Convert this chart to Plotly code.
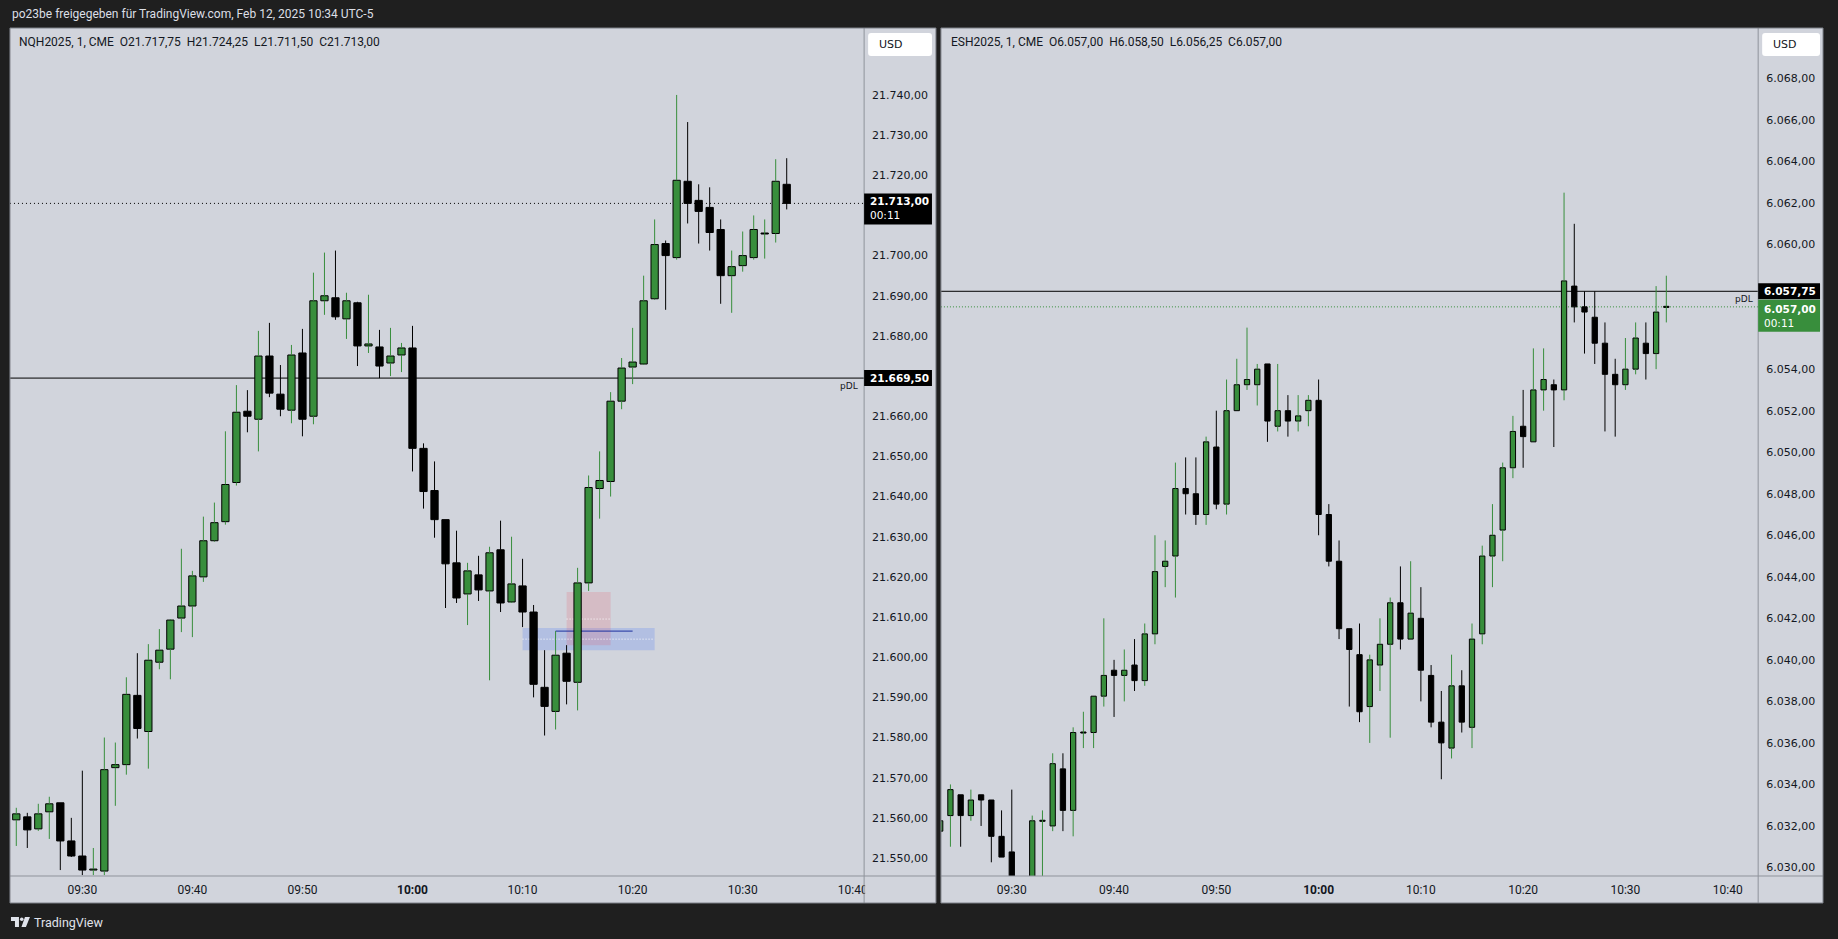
import plotly.graph_objects as go
import pandas as pd

W, H = 1838, 939
BG_DARK = "#1f1f1f"
PANEL = "#d1d4dc"
TXT = "#131722"
GREEN = "#388e3c"
AXLINE = "#8f939b"

# ---------------- data: NQH2025, 1 min, starting 09:24 ----------------
nq_start = "2025-02-12 09:24"
nq_open = [21559.5, 21560.25, 21557.25, 21561.5, 21563.75, 21554.25, 21550.5, 21547.0, 21546.75, 21572.5,
           21573.25, 21590.5, 21581.5, 21598.75, 21602.0, 21609.75, 21612.75, 21620.0, 21629.0, 21633.75,
           21643.5, 21661.25, 21659.25, 21675.0, 21665.5, 21661.5, 21675.75, 21660.0, 21688.75, 21689.5,
           21684.25, 21688.25, 21677.5, 21677.25, 21673.25, 21675.25, 21677.0, 21652.0, 21641.5, 21634.25,
           21623.5, 21615.75, 21620.5, 21616.5, 21626.75, 21613.75, 21617.75, 21611.25, 21592.5, 21586.5,
           21601.0, 21593.75, 21618.5, 21642.0, 21643.75, 21663.75, 21672.25, 21673.0, 21689.25, 21703.0,
           21699.5, 21718.5, 21713.75, 21712.0, 21706.5, 21695.0, 21697.5, 21699.5, 21705.5, 21705.5,
           21717.75]
nq_high = [21562.5, 21561.25, 21563.5, 21565.25, 21563.75, 21560.0, 21571.75, 21552.5, 21580.0, 21578.75,
           21595.0, 21601.0, 21603.25, 21607.0, 21609.5, 21627.0, 21621.5, 21635.0, 21638.5, 21656.25,
           21667.75, 21666.5, 21681.25, 21683.25, 21672.75, 21677.75, 21681.75, 21695.75, 21700.75, 21701.25,
           21690.75, 21688.5, 21690.25, 21681.5, 21682.0, 21678.25, 21682.5, 21653.25, 21648.75, 21634.25,
           21631.5, 21623.5, 21625.25, 21627.5, 21634.0, 21630.0, 21624.5, 21613.0, 21601.75, 21606.5,
           21603.0, 21622.25, 21645.25, 21651.25, 21666.0, 21674.5, 21682.0, 21695.0, 21709.0, 21703.75,
           21740.0, 21733.25, 21717.75, 21717.0, 21709.0, 21701.25, 21706.0, 21710.0, 21709.0, 21724.0,
           21724.25]
nq_low = [21553.0, 21552.5, 21556.75, 21554.75, 21547.0, 21550.25, 21545.75, 21545.75, 21545.75, 21563.0,
          21570.75, 21579.75, 21572.25, 21597.0, 21594.5, 21606.25, 21605.0, 21618.75, 21628.75, 21633.0,
          21642.75, 21656.0, 21651.25, 21664.75, 21660.0, 21658.25, 21655.0, 21658.0, 21685.25, 21684.0,
          21679.25, 21672.5, 21675.75, 21669.5, 21670.0, 21671.0, 21646.25, 21637.0, 21629.75, 21612.25,
          21613.5, 21608.0, 21614.0, 21594.25, 21611.25, 21613.5, 21607.5, 21590.0, 21580.5, 21582.0,
          21588.25, 21586.75, 21616.5, 21634.5, 21640.0, 21661.75, 21668.0, 21672.75, 21689.0, 21686.5,
          21699.0, 21708.0, 21703.0, 21701.25, 21688.0, 21685.75, 21696.0, 21699.0, 21699.25, 21703.25,
          21711.5]
nq_close = [21561.0, 21557.0, 21561.0, 21563.5, 21554.25, 21550.5, 21547.0, 21547.25, 21572.0, 21573.25,
            21590.75, 21582.25, 21599.25, 21601.75, 21609.25, 21612.75, 21620.25, 21629.0, 21633.5, 21643.0,
            21661.0, 21660.0, 21675.0, 21665.75, 21661.75, 21675.25, 21659.25, 21688.75, 21690.0, 21684.75,
            21688.75, 21677.5, 21678.0, 21672.5, 21675.0, 21677.0, 21652.0, 21641.25, 21634.25, 21623.25,
            21614.75, 21621.5, 21616.75, 21626.0, 21613.5, 21618.25, 21611.25, 21593.25, 21587.75, 21600.5,
            21594.0, 21618.5, 21642.25, 21644.0, 21663.75, 21672.0, 21673.5, 21688.75, 21702.75, 21700.0,
            21718.75, 21713.0, 21711.0, 21705.75, 21695.0, 21697.25, 21700.0, 21706.5, 21705.5, 21718.5,
            21713.0]

# ---------------- data: ESH2025, 1 min, starting 09:23 ----------------
es_start = "2025-02-12 09:23"
es_open = [6031.75, 6032.5, 6033.5, 6032.5, 6033.5, 6033.25, 6031.5, 6030.75, 6029.25, 6028.75,
           6032.25, 6032.0, 6034.75, 6032.75, 6036.5, 6036.5, 6038.25, 6039.5, 6039.25, 6039.75,
           6039.0, 6041.25, 6044.5, 6045.0, 6048.25, 6048.0, 6047.0, 6050.25, 6047.5, 6052.0,
           6053.25, 6053.25, 6054.25, 6051.25, 6052.0, 6051.5, 6052.0, 6052.5, 6047.0, 6044.75,
           6041.5, 6040.25, 6037.75, 6039.75, 6040.75, 6042.75, 6041.0, 6042.0, 6039.25, 6037.0,
           6035.75, 6038.75, 6036.75, 6041.25, 6045.0, 6046.25, 6049.25, 6051.25, 6050.5, 6053.0,
           6053.25, 6053.0, 6058.0, 6057.0, 6056.5, 6055.25, 6053.75, 6053.25, 6054.0, 6055.25,
           6054.75, 6057.0]
es_high = [6032.5, 6034.0, 6033.5, 6033.75, 6033.5, 6033.25, 6032.75, 6033.75, 6029.5, 6032.5,
           6032.75, 6035.5, 6035.5, 6036.75, 6037.5, 6038.25, 6042.0, 6040.0, 6040.5, 6041.0,
           6041.75, 6046.0, 6045.75, 6049.5, 6049.75, 6049.75, 6050.75, 6052.0, 6053.5, 6054.5,
           6056.0, 6054.25, 6054.25, 6054.25, 6052.75, 6052.75, 6052.75, 6053.5, 6047.5, 6045.75,
           6041.5, 6041.75, 6040.25, 6042.0, 6043.0, 6044.5, 6044.75, 6043.5, 6039.75, 6038.5,
           6040.25, 6039.5, 6041.75, 6045.5, 6047.5, 6049.5, 6051.75, 6053.0, 6055.0, 6055.0,
           6053.5, 6062.5, 6061.0, 6057.75, 6057.75, 6056.25, 6054.5, 6055.5, 6056.25, 6056.25,
           6058.0, 6058.5]
es_low = [6031.5, 6031.0, 6031.0, 6032.25, 6032.0, 6030.25, 6030.5, 6029.0, 6028.25, 6028.5,
          6029.25, 6031.75, 6031.75, 6031.5, 6035.75, 6035.75, 6037.75, 6037.25, 6038.0, 6038.5,
          6038.75, 6040.75, 6043.5, 6043.0, 6047.0, 6046.5, 6046.5, 6047.25, 6047.0, 6052.0,
          6053.0, 6052.25, 6050.5, 6051.0, 6050.75, 6051.0, 6051.25, 6046.0, 6044.5, 6041.0,
          6037.75, 6037.0, 6036.0, 6038.5, 6036.25, 6040.5, 6041.0, 6038.0, 6036.75, 6034.25,
          6035.25, 6036.5, 6035.75, 6040.75, 6043.5, 6044.75, 6048.75, 6049.25, 6050.5, 6052.0,
          6050.25, 6052.5, 6056.25, 6054.75, 6054.25, 6051.0, 6050.75, 6053.0, 6053.75, 6053.5,
          6054.0, 6056.25]
es_close = [6032.25, 6033.75, 6032.5, 6033.25, 6033.25, 6031.5, 6030.5, 6029.25, 6028.75, 6032.25,
            6032.25, 6035.0, 6032.75, 6036.5, 6036.5, 6038.25, 6039.25, 6039.25, 6039.5, 6039.0,
            6041.25, 6044.25, 6044.75, 6048.25, 6048.0, 6047.0, 6050.5, 6047.5, 6052.0, 6053.25,
            6053.5, 6054.0, 6051.5, 6052.0, 6051.5, 6051.75, 6052.5, 6047.0, 6044.75, 6041.5,
            6040.5, 6037.5, 6040.0, 6040.75, 6042.75, 6041.0, 6042.25, 6039.5, 6037.0, 6036.0,
            6038.75, 6037.0, 6041.0, 6045.0, 6046.0, 6049.25, 6051.0, 6050.75, 6053.0, 6053.5,
            6053.0, 6058.25, 6057.0, 6056.75, 6055.25, 6053.75, 6053.25, 6054.0, 6055.5, 6054.75,
            6056.75, 6057.0]

# ---------------- axis ticks / levels ----------------
nq_ticks = [21550, 21560, 21570, 21580, 21590, 21600, 21610, 21620, 21630, 21640, 21650, 21660,
            21680, 21690, 21700, 21720, 21730, 21740]
es_ticks = [6030, 6032, 6034, 6036, 6038, 6040, 6042, 6044, 6046, 6048, 6050, 6052, 6054,
            6060, 6062, 6064, 6066, 6068]
time_ticks = ["09:30", "09:40", "09:50", "10:00", "10:10", "10:20", "10:30", "10:40"]

nq_last = 21713.00
nq_pdl = 21669.50
es_last = 6057.00
es_pdl = 6057.75

# drawings on NQ chart
nq_blue_zone = ("10:10", "10:22", 21601.75, 21607.25)
nq_blue_mid = 21604.5
nq_red_zone = ("10:14", "10:18", 21603.0, 21616.25)
nq_red_mid = 21609.5
nq_level = ("10:13", "10:20", 21606.5)

header_top = "po23be freigegeben für TradingView.com, Feb 12, 2025 10:34 UTC-5"
nq_header = "NQH2025, 1, CME\u00a0\u00a0O21.717,75\u00a0\u00a0H21.724,25\u00a0\u00a0L21.711,50\u00a0\u00a0C21.713,00"
es_header = "ESH2025, 1, CME\u00a0\u00a0O6.057,00\u00a0\u00a0H6.058,50\u00a0\u00a0L6.056,25\u00a0\u00a0C6.057,00"

DAY = "2025-02-12 "


def fmt(v):
    s = f"{v:,.2f}"
    return s.replace(",", "X").replace(".", ",").replace("X", ".")


def px(x):
    return x / W


def py(y):
    return 1 - y / H


def times_for(start, n):
    return pd.date_range(start, periods=n, freq="1min").strftime("%Y-%m-%d %H:%M:%S").tolist()


fig = go.Figure()


def add_candles(times, o, h, l, c, xa, ya, width_ms, min_h):
    for is_up, color in ((True, GREEN), (False, "black")):
        xs, ys = [], []
        for t, oi, hi, li, ci in zip(times, o, h, l, c):
            if (ci >= oi) != is_up:
                continue
            top, bot = max(oi, ci), min(oi, ci)
            if hi > top:
                xs += [t, t, None]
                ys += [hi, top, None]
            if li < bot:
                xs += [t, t, None]
                ys += [bot, li, None]
        fig.add_trace(go.Scatter(x=xs, y=ys, mode="lines", line=dict(color=color, width=1),
                                 xaxis=xa, yaxis=ya, hoverinfo="skip", showlegend=False))
    base, hgt, fill = [], [], []
    for oi, ci in zip(o, c):
        d = abs(ci - oi)
        if d < min_h:
            base.append((oi + ci) / 2 - min_h / 2)
            hgt.append(min_h)
        else:
            base.append(min(oi, ci))
            hgt.append(d)
        fill.append(GREEN if ci > oi else "black")
    fig.add_trace(go.Bar(x=times, y=hgt, base=base, width=width_ms,
                         marker=dict(color=fill, line=dict(color="black", width=1)),
                         xaxis=xa, yaxis=ya, hoverinfo="skip", showlegend=False))


nq_t = times_for(nq_start, len(nq_open))
es_t = times_for(es_start, len(es_open))
add_candles(nq_t, nq_open, nq_high, nq_low, nq_close, "x", "y", 39700, 0.25)
add_candles(es_t, es_open, es_high, es_low, es_close, "x2", "y2", 31000, 0.05)

# ---------------- layout geometry (pixels) ----------------
L_PLOT = (10, 866)
R_PLOT = (943, 1762)
PLOT_Y = (28, 876)
L_PANEL = (10, 938)
R_PANEL = (943, 1827)
PANEL_Y = (28, 903)

xcommon = dict(type="date", showgrid=False, zeroline=False, showline=False, ticks="",
               tickfont=dict(family="Roboto", size=12, color=TXT), ticklabelstandoff=5,
               tickvals=[DAY + t for t in time_ticks],
               ticktext=[("<b>%s</b>" % t) if t == "10:00" else t for t in time_ticks],
               fixedrange=True)
ycommon = dict(side="right", showgrid=False, zeroline=False, showline=False, ticks="",
               tickfont=dict(family="DejaVu Sans", size=11, color=TXT), ticklabelstandoff=7,
               fixedrange=True)

fig.update_layout(
    width=W, height=H, margin=dict(l=0, r=0, t=0, b=0),
    paper_bgcolor=BG_DARK, plot_bgcolor=PANEL, showlegend=False, barmode="overlay",
    hovermode=False,
    xaxis=dict(xcommon, domain=[px(L_PLOT[0]), px(L_PLOT[1])], anchor="y",
               range=[DAY + "09:23:25.6", DAY + "10:41:02"]),
    yaxis=dict(ycommon, domain=[py(PLOT_Y[1]), py(PLOT_Y[0])], anchor="x",
               range=[21545.52, 21756.67], tickvals=nq_ticks, ticktext=[fmt(v) for v in nq_ticks]),
    xaxis2=dict(xcommon, domain=[px(R_PLOT[0]), px(R_PLOT[1])], anchor="y2",
                range=[DAY + "09:23:04.4", DAY + "10:42:58.8"]),
    yaxis2=dict(ycommon, domain=[py(PLOT_Y[1]), py(PLOT_Y[0])], anchor="x2",
                range=[6029.59, 6070.43], tickvals=es_ticks, ticktext=[fmt(v) for v in es_ticks]),
)

shapes = []
# panel backgrounds
for (x0, x1) in (L_PANEL, R_PANEL):
    shapes.append(dict(type="rect", xref="paper", yref="paper", x0=px(x0), x1=px(x1),
                       y0=py(PANEL_Y[1]), y1=py(PANEL_Y[0]), fillcolor=PANEL,
                       line=dict(width=0), layer="below"))

# NQ drawings
t0, t1, p0, p1 = nq_blue_zone
shapes.append(dict(type="rect", xref="x", yref="y", x0=DAY + t0, x1=DAY + t1, y0=p0, y1=p1,
                   fillcolor="rgba(41,98,255,0.18)", line=dict(width=0), layer="below"))
t0, t1, p0, p1 = nq_red_zone
shapes.append(dict(type="rect", xref="x", yref="y", x0=DAY + t0, x1=DAY + t1, y0=p0, y1=p1,
                   fillcolor="rgba(242,54,69,0.15)", line=dict(width=0), layer="below"))
shapes.append(dict(type="line", xref="x", yref="y", x0=DAY + nq_red_zone[0], x1=DAY + nq_red_zone[1],
                   y0=nq_red_mid, y1=nq_red_mid, line=dict(color="white", width=1, dash="1px,2px"),
                   layer="below"))
shapes.append(dict(type="line", xref="x", yref="y", x0=DAY + nq_blue_zone[0], x1=DAY + nq_blue_zone[1],
                   y0=nq_blue_mid, y1=nq_blue_mid, line=dict(color="white", width=1, dash="1px,2px"),
                   layer="below"))
shapes.append(dict(type="line", xref="x", yref="y", x0=DAY + nq_level[0], x1=DAY + nq_level[1],
                   y0=nq_level[2], y1=nq_level[2], line=dict(color="#1b2f9e", width=1), layer="below"))

# price lines
shapes.append(dict(type="line", xref="x domain", yref="y", x0=0, x1=1, y0=nq_pdl, y1=nq_pdl,
                   line=dict(color="black", width=1), layer="below"))
shapes.append(dict(type="line", xref="x domain", yref="y", x0=0, x1=1, y0=nq_last, y1=nq_last,
                   line=dict(color="black", width=1, dash="1px,3px"), layer="below"))
shapes.append(dict(type="line", xref="x2 domain", yref="y2", x0=0, x1=1, y0=es_pdl, y1=es_pdl,
                   line=dict(color="black", width=1), layer="below"))
shapes.append(dict(type="line", xref="x2 domain", yref="y2", x0=0, x1=1, y0=es_last, y1=es_last,
                   line=dict(color=GREEN, width=1, dash="1px,2px"), layer="below"))

# corner covers (clip time labels under price scale)
for (pl, pn) in ((L_PLOT, L_PANEL), (R_PLOT, R_PANEL)):
    shapes.append(dict(type="rect", xref="paper", yref="paper", x0=px(pl[1] + 1), x1=px(pn[1] - 1),
                       y0=py(PANEL_Y[1] - 1), y1=py(PLOT_Y[1] + 1), fillcolor=PANEL,
                       line=dict(width=0), layer="above"))

# separators and outlines
for (pl, pn) in ((L_PLOT, L_PANEL), (R_PLOT, R_PANEL)):
    shapes.append(dict(type="line", xref="paper", yref="paper", x0=px(pl[1]), x1=px(pl[1]),
                       y0=py(PANEL_Y[1]), y1=py(PANEL_Y[0]), line=dict(color=AXLINE, width=1),
                       layer="above"))
    shapes.append(dict(type="line", xref="paper", yref="paper", x0=px(pn[0]), x1=px(pn[1]),
                       y0=py(PLOT_Y[1]), y1=py(PLOT_Y[1]), line=dict(color=AXLINE, width=1),
                       layer="above"))
    shapes.append(dict(type="rect", xref="paper", yref="paper", x0=px(pn[0]), x1=px(pn[1]),
                       y0=py(PANEL_Y[1]), y1=py(PANEL_Y[0]), line=dict(color="#7d8088", width=1),
                       fillcolor="rgba(0,0,0,0)", layer="above"))


def rrect(x0, y0, x1, y1, r):
    pts = [
        f"M{px(x0 + r)},{py(y0)}", f"L{px(x1 - r)},{py(y0)}", f"Q{px(x1)},{py(y0)} {px(x1)},{py(y0 + r)}",
        f"L{px(x1)},{py(y1 - r)}", f"Q{px(x1)},{py(y1)} {px(x1 - r)},{py(y1)}",
        f"L{px(x0 + r)},{py(y1)}", f"Q{px(x0)},{py(y1)} {px(x0)},{py(y1 - r)}",
        f"L{px(x0)},{py(y0 + r)}", f"Q{px(x0)},{py(y0)} {px(x0 + r)},{py(y0)}", "Z"]
    return " ".join(pts)


# USD boxes
for (xa, xb) in ((870, 934), (1766, 1824)):
    shapes.append(dict(type="path", xref="paper", yref="paper", path=rrect(xa, 33, xb, 56, 3),
                       fillcolor="white", line=dict(width=0), layer="above"))

# price label boxes
shapes.append(dict(type="rect", xref="paper", yref="y", ysizemode="pixel", yanchor=nq_last,
                   x0=px(866), x1=px(934), y0=-21, y1=10, fillcolor="black", line=dict(width=0),
                   layer="above"))
shapes.append(dict(type="rect", xref="paper", yref="y", ysizemode="pixel", yanchor=nq_pdl,
                   x0=px(866), x1=px(934), y0=-8, y1=8, fillcolor="black", line=dict(width=0),
                   layer="above"))
shapes.append(dict(type="rect", xref="paper", yref="y2", ysizemode="pixel", yanchor=es_pdl,
                   x0=px(1762), x1=px(1824), y0=-8, y1=8, fillcolor="black", line=dict(width=0),
                   layer="above"))
shapes.append(dict(type="rect", xref="paper", yref="y2", ysizemode="pixel", yanchor=es_last,
                   x0=px(1762), x1=px(1824), y0=-25, y1=7, fillcolor=GREEN, line=dict(width=0),
                   layer="above"))

# TradingView logo glyph (approximation)
logo = [
    f"M{px(11)},{py(917)} L{px(19)},{py(917)} L{px(19)},{py(927)} L{px(15)},{py(927)} L{px(15)},{py(921)} L{px(11)},{py(921)} Z",
    f"M{px(25)},{py(917)} L{px(30)},{py(917)} L{px(26)},{py(927)} L{px(21.5)},{py(927)} Z",
]
for p in logo:
    shapes.append(dict(type="path", xref="paper", yref="paper", path=p, fillcolor="#e0e3eb",
                       line=dict(width=0), layer="above"))
shapes.append(dict(type="circle", xref="paper", yref="paper", x0=px(20), x1=px(23.6), y0=py(921),
                   y1=py(917.4), fillcolor="#e0e3eb", line=dict(width=0), layer="above"))

fig.update_layout(shapes=shapes)

ann = []


def A(text, x, y, size=12, color=TXT, family="Roboto", xanchor="left", yref="paper", yshift=0):
    ann.append(dict(text=text, x=x, y=y, xref="paper", yref=yref, showarrow=False,
                    xanchor=xanchor, yanchor="middle", yshift=yshift,
                    font=dict(family=family, size=size, color=color)))


A(header_top, px(10), py(14), size=12, color="#dcdfe6")
A(nq_header, px(17), py(42), size=12)
A(es_header, px(951), py(42), size=12)
A("TradingView", px(32), py(922), size=12.5, color="#e0e3eb")
A("USD", px(879), py(44.5), size=11, family="DejaVu Sans")
A("USD", px(1775), py(44.5), size=11, family="DejaVu Sans")

# price label texts
A("<b>" + fmt(nq_last) + "</b>", px(870), nq_last, size=10.5, color="white", family="DejaVu Sans",
  yref="y", yshift=2)
A("00:11", px(870), nq_last, size=10.5, color="white", family="DejaVu Sans", yref="y", yshift=-12)
A("<b>" + fmt(nq_pdl) + "</b>", px(870), nq_pdl, size=10.5, color="white", family="DejaVu Sans",
  yref="y")
A("<b>" + fmt(es_pdl) + "</b>", px(1766), es_pdl, size=10.5, color="white", family="DejaVu Sans",
  yref="y2")
A("<b>" + fmt(es_last) + "</b>", px(1766), es_last, size=10.5, color="white", family="DejaVu Sans",
  yref="y2", yshift=-2)
A("00:11", px(1766), es_last, size=10.5, color="white", family="DejaVu Sans", yref="y2", yshift=-16)

# pDL labels
A("pDL", px(862), nq_pdl, size=9, xanchor="right", family="DejaVu Sans", yref="y", yshift=-8)
A("pDL", px(1759), es_pdl, size=9, xanchor="right", family="DejaVu Sans", yref="y2", yshift=-8)

fig.update_layout(annotations=ann)

fig.write_html("out.html", config={"displayModeBar": False, "staticPlot": True},
               post_script="document.body.style.margin='0';document.body.style.overflow='hidden';"
                           "document.body.style.background='%s';" % BG_DARK)
